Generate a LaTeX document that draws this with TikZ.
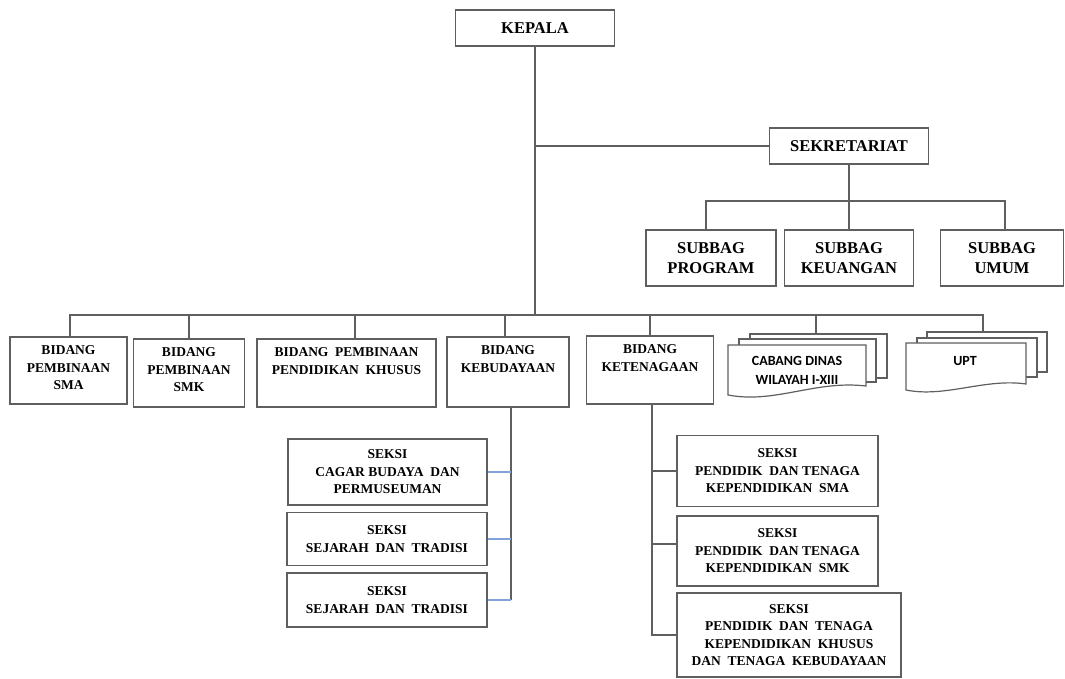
\documentclass[tikz,border=0pt]{standalone}
\usepackage{fontspec}
\setmainfont{Liberation Serif}
\newfontfamily\calibri{Carlito}
\usepackage{tikz}
\usetikzlibrary{positioning}
\tikzset{>=stealth}
\definecolor{linegray}{HTML}{5F5F5F}
\definecolor{linkblue}{HTML}{7FA3DA}
\tikzset{
  box/.style={draw=linegray, line width=1.2pt, align=center, inner sep=0pt,
    font=\bfseries\fontsize{13.5}{17.5}\selectfont},
  bigbox/.style={box, font=\bfseries\fontsize{16.5}{20}\selectfont},
  txt/.style={align=center, inner sep=0pt, font=\bfseries\fontsize{13.5}{17.5}\selectfont},
  sanstxt/.style={align=center, inner sep=0pt, font=\calibri\bfseries\fontsize{14}{19}\selectfont},
  sheet/.style={draw=linegray, line width=1.2pt, fill=white},
  conn/.style={draw=linegray, line width=1.1pt},
  blueconn/.style={draw=linkblue, line width=1.1pt}
}

\begin{document}
\begin{tikzpicture}[x=1pt,y=-1pt]
		\useasboundingbox (0,0) rectangle (1065,679);

		% pimpinan
		\node[bigbox, minimum width=159pt, minimum height=36pt] (kepala) at (535,28) {KEPALA};
		\node[bigbox, minimum width=159pt, minimum height=36pt] (sekre) at (849,146) {SEKRETARIAT};

		\node[bigbox, minimum width=130pt, minimum height=56pt] (prog) at (711,258) {SUBBAG\\PROGRAM};
		\node[bigbox, minimum width=129pt, minimum height=56pt] (keu) at (849,258) {SUBBAG\\KEUANGAN};
		\node[bigbox, minimum width=123pt, minimum height=56pt] (umum) at (1002,258) {SUBBAG\\UMUM};

		% bidang
		\node[box, minimum width=117pt, minimum height=67pt] (sma) at (68.5,370.5) {};
		\node[txt, below=9pt of sma.north] (smaT) {BIDANG\\PEMBINAAN\\SMA};
		\node[box, minimum width=111pt, minimum height=68pt] (smk) at (189,373) {};
		\node[txt, below=9pt of smk.north] (smkT) {BIDANG\\PEMBINAAN\\SMK};
		\node[box, minimum width=179pt, minimum height=68pt] (pk) at (346.5,373) {};
		\node[txt, below=9pt of pk.north] (pkT) {BIDANG\ \ PEMBINAAN\\PENDIDIKAN\ \ KHUSUS};
		\node[box, minimum width=122pt, minimum height=70pt] (keb) at (508,372) {};
		\node[txt, below=9pt of keb.north] (kebT) {BIDANG\\KEBUDAYAAN};
		\node[box, minimum width=127pt, minimum height=68pt] (ket) at (650,370) {};
		\node[txt, below=9pt of ket.north] (ketT) {BIDANG\\KETENAGAAN};

		% cabang dinas
		\draw[sheet] (750,334) rectangle (887,378);
		\draw[sheet] (739,339) rectangle (876,382);
		\draw[sheet] (728,345) -- (866,345) -- (866,386) .. controls (815,380) and (775,404) .. (728,395) -- cycle;
		\node[sanstxt] (cabang) at (797,370) {CABANG DINAS\\WILAYAH I-XIII};
		\coordinate (cabtop) at (816,334);

		% upt
		\draw[sheet] (927,332) rectangle (1047,372);
		\draw[sheet] (917,338) rectangle (1037,377);
		\draw[sheet] (906,343) -- (1026,343) -- (1026,384) .. controls (985,378) and (945,398) .. (906,390) -- cycle;
		\node[sanstxt] (upt) at (965,361) {UPT};
		\coordinate (upttop) at (983,332);

		% seksi kebudayaan
		\node[box, minimum width=199pt, minimum height=66pt] (cb1) at (387.5,472) {SEKSI\\CAGAR\ BUDAYA\ \ DAN\\PERMUSEUMAN};
		\node[box, minimum width=200pt, minimum height=53pt] (cb2) at (387,539) {SEKSI\\SEJARAH\ \ DAN\ \ TRADISI};
		\node[box, minimum width=200pt, minimum height=54pt] (cb3) at (387,600) {SEKSI\\SEJARAH\ \ DAN\ \ TRADISI};

		% seksi ketenagaan
		\node[box, minimum width=201pt, minimum height=71pt] (tk1) at (777.5,471) {SEKSI\\PENDIDIK\ \ DAN\ TENAGA\\KEPENDIDIKAN\ \ SMA};
		\node[box, minimum width=201pt, minimum height=70pt] (tk2) at (777.5,551) {SEKSI\\PENDIDIK\ \ DAN\ TENAGA\\KEPENDIDIKAN\ \ SMK};
		\node[box, minimum width=224pt, minimum height=84pt] (tk3) at (789,635) {SEKSI\\PENDIDIK\ \ DAN\ \ TENAGA\\KEPENDIDIKAN\ \ KHUSUS\\DAN\ \ TENAGA\ \ KEBUDAYAAN};

		% garis
		\coordinate (bus) at (535,315);
		\coordinate (sbus) at (849,201);
		\draw[conn] (kepala.south) -- (bus);
		\draw[conn] (kepala.south |- sekre.west) -- (sekre.west);
		\draw[conn] (sekre.south) -- (keu.north);
		\draw[conn] ([xshift=-5pt]prog.north) |- (sbus) -| ([xshift=3pt]umum.north);

		\draw[conn] ([xshift=1.5pt]sma.north) |- (bus) -| (upttop);
		\draw[conn] (smk.north) -- (smk.north |- bus);
		\draw[conn] ([xshift=8.5pt]pk.north) -- ([xshift=8.5pt]pk.north |- bus);
		\draw[conn] ([xshift=-3pt]keb.north) -- ([xshift=-3pt]keb.north |- bus);
		\draw[conn] (ket.north) -- (ket.north |- bus);
		\draw[conn] (cabtop) -- (cabtop |- bus);

		\draw[conn] ([xshift=3pt]keb.south) -- ([xshift=3pt]keb.south |- cb3.east);
		\foreach \n in {cb1,cb2,cb3}
			\draw[blueconn] (\n.east) -- ([xshift=3pt]\n.east -| keb.south);

		\draw[conn] ([xshift=2pt]ket.south) |- (tk3.west);
		\draw[conn] (tk1.west) -- ([xshift=2pt]tk1.west -| ket.south);
		\draw[conn] ([yshift=7pt]tk2.west) -- ([xshift=2pt,yshift=7pt]tk2.west -| ket.south);
\end{tikzpicture}
\end{document}
